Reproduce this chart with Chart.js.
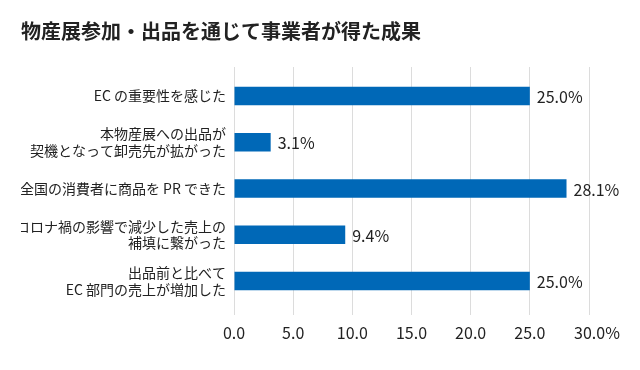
<!DOCTYPE html>
<html>
<head>
<meta charset="utf-8">
<script src="https://cdn.jsdelivr.net/npm/chart.js@4"></script>
<style>
    html, body { margin: 0; padding: 0; background: #fff; }
    #wrap { width: 640px; height: 370px; }
</style>
</head>
<body>
<div id="wrap"><canvas id="chart" width="640" height="370"></canvas></div>
<script>
// categories (top to bottom), multi-line labels as arrays
const categories = [
    ['EC の重要性を感じた'],
    ['本物産展への出品が', '契機となって卸売先が拡がった'],
    ['全国の消費者に商品を PR できた'],
    ['コロナ禍の影響で減少した売上の', '補填に繋がった'],
    ['出品前と比べて', 'EC 部門の売上が増加した'],
];
const values = [25.0, 3.1, 28.1, 9.4, 25.0];
const xTicks = [0, 5, 10, 15, 20, 25, 30];
const titleText = '物産展参加・出品を通じて事業者が得た成果';

Chart.defaults.font.family = '"Noto Sans CJK JP", "Noto Sans", sans-serif';
Chart.defaults.color = '#222';

// value labels at the end of each bar
const barLabels = {
    id: 'barLabels',
    afterDatasetsDraw(chart) {
        let ctx = chart.ctx;
        let meta = chart.getDatasetMeta(0);
        ctx.save();
        ctx.font = '16px "Noto Sans CJK JP"';
        ctx.fillStyle = '#222';
        ctx.textAlign = 'left';
        ctx.textBaseline = 'middle';
        meta.data.forEach((bar, i) => {
            ctx.fillText(values[i].toFixed(1) + '%', bar.x + 7, bar.y + 1);
        });
        ctx.restore();
    }
};

var ctx = document.getElementById('chart');
var chart = new Chart(ctx, {
    type: 'bar',
    data: {
        labels: categories,
        datasets: [
            {
                data: values,
                backgroundColor: '#0068b7',
                borderWidth: 0,
                barPercentage: 0.4,
                categoryPercentage: 1.0,
            },
        ],
    },
    options: {
        indexAxis: 'y',
        responsive: false,
        animation: false,
        layout: { padding: { left: 21, right: 51, top: 0, bottom: 0 } },
        scales: {
            x: {
                position: 'bottom',
                min: 0,
                max: 30,
                afterBuildTicks: (s) => { s.ticks = xTicks.map((v) => ({ value: v })); },
                afterFit: (s) => { s.height = 66; },
                grid: { color: '#dcdcdc', lineWidth: 1, tickLength: 11 },
                border: { display: false },
                ticks: {
                    padding: 8,
                    maxRotation: 0,
                    minRotation: 0,
                    autoSkip: false,
                    font: { size: 16 },
                    color: '#222',
                    callback: (v) => (v === 30 ? '\u200330.0%' : v.toFixed(1)),
                },
            },
            x2: {
                position: 'top',
                axis: 'x',
                min: 0,
                max: 30,
                afterBuildTicks: (s) => { s.ticks = xTicks.map((v) => ({ value: v })); },
                afterFit: (s) => { s.height = 6; },
                grid: { color: '#dcdcdc', lineWidth: 1, tickLength: 6, drawOnChartArea: false },
                border: { display: false },
                ticks: { display: false },
            },
            y: {
                afterFit: (s) => { s.width = 213; },
                grid: { display: false, drawTicks: false },
                border: { display: false },
                ticks: {
                    padding: 8,
                    font: { size: 14, lineHeight: 1.2 },
                    color: '#222',
                },
            },
        },
        plugins: {
            legend: { display: false },
            tooltip: { enabled: false },
            title: {
                display: true,
                text: titleText,
                align: 'start',
                color: '#222',
                font: { size: 20, weight: 'bold', lineHeight: 1.2 },
                padding: { top: 19.5, bottom: 23.5 },
            },
        },
    },
    plugins: [barLabels],
});
</script>
</body>
</html>
